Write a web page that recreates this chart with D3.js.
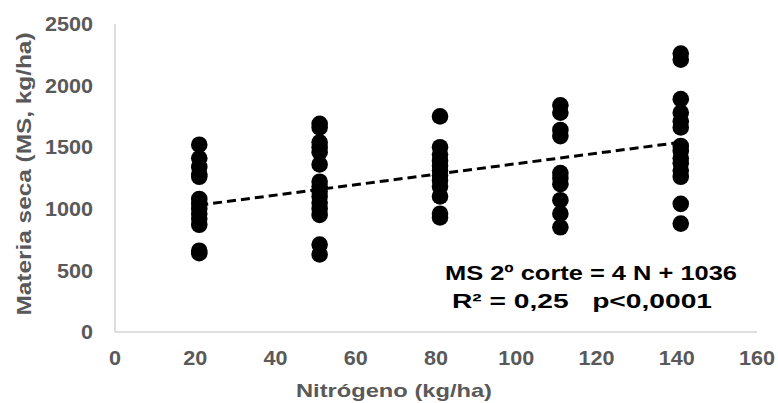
<!DOCTYPE html>
<html><head><meta charset="utf-8">
<script src="https://cdn.jsdelivr.net/npm/d3@7/dist/d3.min.js"></script>
<style>body{margin:0;background:#fff;}svg{display:block;font-family:"Liberation Sans",Arial,sans-serif;}</style>
</head><body>
<script>
const nitrogenLevels = [21, 51, 81, 111, 141];
const ms21 = [1520, 1410, 1340, 1280, 1260, 1080, 1040, 1000, 960, 920, 870, 660, 640];
const ms51 = [1690, 1660, 1540, 1500, 1460, 1360, 1220, 1180, 1140, 1100, 1050, 1000, 950, 710, 630];
const ms81 = [1750, 1500, 1440, 1390, 1350, 1310, 1270, 1230, 1180, 1100, 960, 930];
const ms111 = [1840, 1780, 1640, 1590, 1290, 1250, 1200, 1070, 960, 850];
const ms141 = [2260, 2210, 1890, 1780, 1710, 1660, 1510, 1470, 1410, 1370, 1310, 1260, 1040, 880];
const trendX = [21, 141];
const trendY = [1030, 1540];
const xTicks = [0, 20, 40, 60, 80, 100, 120, 140, 160];
const yTicks = [0, 500, 1000, 1500, 2000, 2500];
const equationLines = ["MS 2º corte = 4 N + 1036", "R² = 0,25   p<0,0001"];

const W = 778, H = 403;
const svg = d3.select("body").append("svg").attr("width", W).attr("height", H);
const x = d3.scaleLinear().domain([0, 160]).range([115, 757]);
const y = d3.scaleLinear().domain([0, 2500]).range([332, 24]);

const groups = [ms21, ms51, ms81, ms111, ms141];
const points = [];
groups.forEach((g, i) => g.forEach(v => points.push({n: nitrogenLevels[i], v})));

const grey = "#595959";

// axes lines
svg.append("line").attr("x1", x(0)).attr("x2", x(0)).attr("y1", y(2500)).attr("y2", y(0))
  .attr("stroke", "#bfbfbf").attr("stroke-width", 1);
svg.append("line").attr("x1", x(0)).attr("x2", x(160)).attr("y1", y(0)).attr("y2", y(0))
  .attr("stroke", "#bfbfbf").attr("stroke-width", 1);

// tick labels
svg.selectAll(".yt").data(yTicks).enter().append("text")
  .attr("x", 93).attr("y", d => y(d)).attr("dy", "0.36em")
  .attr("text-anchor", "end").attr("font-size", 20).attr("font-weight", "bold").attr("fill", grey)
  .attr("textLength", d => String(d).length * 12).attr("lengthAdjust", "spacingAndGlyphs")
  .text(d => d);
svg.selectAll(".xt").data(xTicks).enter().append("text")
  .attr("x", d => x(d)).attr("y", 365)
  .attr("text-anchor", "middle").attr("font-size", 20).attr("font-weight", "bold").attr("fill", grey)
  .attr("textLength", d => String(d).length * 12).attr("lengthAdjust", "spacingAndGlyphs")
  .text(d => d);

// axis titles
svg.append("text").attr("x", 394).attr("y", 397).attr("text-anchor", "middle")
  .attr("font-size", 19).attr("font-weight", "bold").attr("fill", grey)
  .attr("textLength", 196).attr("lengthAdjust", "spacingAndGlyphs").text("Nitrógeno (kg/ha)");
svg.append("text").attr("transform", "translate(31,174) rotate(-90)").attr("text-anchor", "middle")
  .attr("font-size", 20).attr("font-weight", "bold").attr("fill", grey)
  .attr("textLength", 283).attr("lengthAdjust", "spacingAndGlyphs").text("Materia seca (MS, kg/ha)");

// points
svg.selectAll(".pt").data(points).enter().append("circle")
  .attr("cx", d => x(d.n)).attr("cy", d => y(d.v)).attr("r", 8.3).attr("fill", "#000");

// trend line
svg.append("line").attr("x1", x(trendX[0])).attr("y1", y(trendY[0]))
  .attr("x2", x(trendX[1])).attr("y2", y(trendY[1]))
  .attr("stroke", "#000").attr("stroke-width", 3).attr("stroke-dasharray", "9,5");

// equation
svg.append("text").attr("x", 591).attr("y", 280).attr("text-anchor", "middle")
  .attr("font-size", 21).attr("font-weight", "bold").attr("fill", "#000")
  .attr("textLength", 292).attr("lengthAdjust", "spacingAndGlyphs").text(equationLines[0]);
svg.append("text").attr("x", 582).attr("y", 308).attr("text-anchor", "middle")
  .attr("font-size", 21).attr("font-weight", "bold").attr("fill", "#000")
  .style("white-space", "pre")
  .attr("textLength", 260).attr("lengthAdjust", "spacingAndGlyphs").text(equationLines[1]);
</script>
</body></html>
